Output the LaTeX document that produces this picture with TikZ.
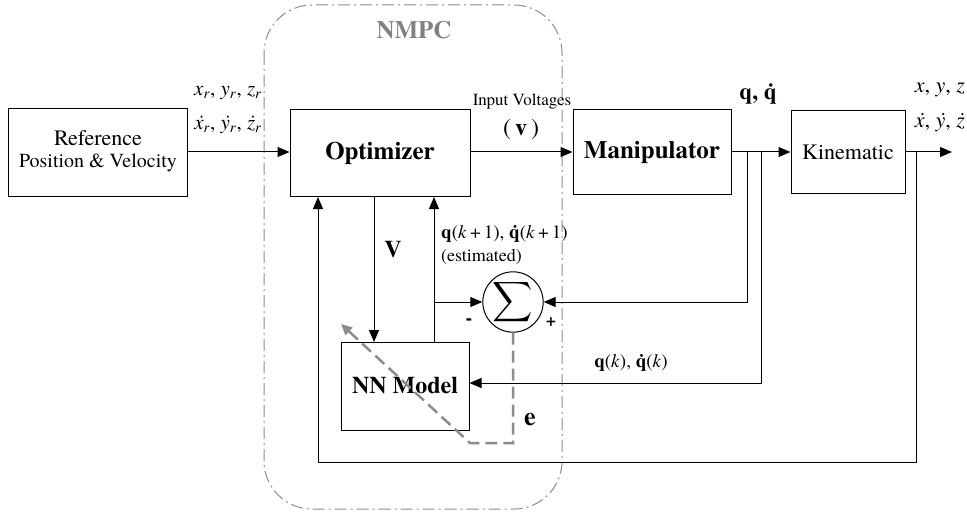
\documentclass[tikz,border=0pt]{standalone}
\usepackage{fontspec}
\setmainfont{texgyretermes}[Extension=.otf, UprightFont=*-regular, BoldFont=*-bold, ItalicFont=*-italic, BoldItalicFont=*-bolditalic]
\usetikzlibrary{arrows.meta}
\tikzset{
  blk/.style={draw, line width=1pt, inner sep=0pt},
  conn/.style={line width=1pt, -{Triangle[length=12pt,width=10pt]}},
  dd/.style={draw=gray!90, line width=1pt, dash pattern=on 12pt off 4pt on 2pt off 4pt, rounded corners=48pt},
}
\newcommand{\fs}[1]{\fontsize{#1}{#1}\selectfont}
\begin{document}
\begin{tikzpicture}[x=1pt,y=-1pt]
\useasboundingbox (0,0) rectangle (967,516);
\clip (0,0) rectangle (967,516);
% NMPC region
\draw[dd] (264,5) rectangle (562,509);
\node[text=gray, font=\fs{25}\bfseries] (nmpc) at (414,30) {NMPC};
% blocks
\node[blk, minimum width=179pt, minimum height=88pt] (ref) at (98,152.5) {};
\node[font=\fs{22}] (reft) at (98,138) {Reference};
\node[font=\fs{20}] (refp) at (98,163) {Position \& Velocity};
\node[blk, minimum width=180pt, minimum height=87pt, font=\fs{25}\bfseries] (opt) at (380,153.5) {Optimizer};
\node[blk, minimum width=158pt, minimum height=85pt, font=\fs{25}\bfseries] (man) at (652,152.5) {Manipulator};
\node[blk, minimum width=114pt, minimum height=83pt, font=\fs{22}] (kin) at (848,152.5) {Kinematic};
\node[blk, minimum width=128pt, minimum height=88pt, font=\fs{24}\bfseries] (nn) at (405,386) {NN Model};
\node[draw, line width=1pt, circle, minimum size=60pt, inner sep=0pt] (sum) at (513,302) {\scalebox{2.8}{$\displaystyle\sum$}};
% coordinates
\coordinate (out) at (952,152);
\coordinate (b1) at (747,152);
\coordinate (b2) at (761,152);
\coordinate (b3) at (916,152);
\coordinate (oa) at (318,197);
\coordinate (ob) at (374,197);
\coordinate (oc) at (434,197);
\coordinate (nb) at (374,342);
\coordinate (nc) at (434,342);
\coordinate (j1) at (434,302);
% main path
\draw[conn] (ref.east |- 0,152) -- (opt.west |- 0,152);
\draw[conn] (opt.east |- 0,152) -- (man.west |- 0,152);
\draw[conn] (man.east |- 0,152) -- (kin.west |- 0,152);
\draw[conn] (kin.east |- 0,152) -- (out);
% feedback
\draw[conn] (b3) -- (916,462) -- (318,462) -- (oa);
\draw[conn] (ob) -- (nb);
\draw[conn] (nc) -- (oc);
\draw[conn] (j1) -- (sum.west);
\draw[conn] (b1) -- (747,302) -- (sum.east);
\draw[conn] (b2) -- (761,383) -- (nn.east |- 0,383);
% dashed error
\draw[gray!90, line width=2.5pt, dash pattern=on 12pt off 6pt, -{Triangle[length=11pt,width=10pt]}]
  (sum.south) -- (513,443) -- (470,443) -- (341,324);
% labels
\node[font=\fs{24}\bfseries] (vlab) at (393,250) {V};
\node[font=\fs{26}\bfseries] (elab) at (530,420) {e};
\node[font=\fs{20}\bfseries] (minus) at (469,322) {-};
\node[font=\fs{18}\bfseries] (plus) at (551,322) {+};
\node[font=\fs{21}] (xr) at (228,93) {\textit{x}\textsubscript{\textit{r}}, \textit{y}\textsubscript{\textit{r}}, \textit{z}\textsubscript{\textit{r}}};
\node[font=\fs{21}] (xrd) at (228,125) {\textit{\.{x}}\textsubscript{\textit{r}}, \textit{\.{y}}\textsubscript{\textit{r}}, \textit{\.{z}}\textsubscript{\textit{r}}};
\node[font=\fs{17}] (iv) at (522,102) {Input Voltages};
\node[font=\fs{24}] (vv) at (521,130) {(\,\textbf{v}\,)};
\node[font=\fs{23}\bfseries] (qq) at (758,94) {q, \.{q}};
\node[font=\fs{22}] (xyz) at (940,90) {\textit{x}, \textit{y}, \textit{z}};
\node[font=\fs{22}] (xyzd) at (940,123) {\textit{\.{x}}, \textit{\.{y}}, \textit{\.{z}}};
\node[font=\fs{19}, anchor=west, inner sep=0pt] (qk1) at (441,234) {\textbf{q}(\textit{k}\,+\,1), \textbf{\.{q}}(\textit{k}\,+\,1)};
\node[font=\fs{18}, anchor=west, inner sep=0pt] (est) at (441,257) {(estimated)};
\node[font=\fs{19}] (qk) at (631,363) {\textbf{q}(\textit{k}), \textbf{\.{q}}(\textit{k})};
\end{tikzpicture}
\end{document}
